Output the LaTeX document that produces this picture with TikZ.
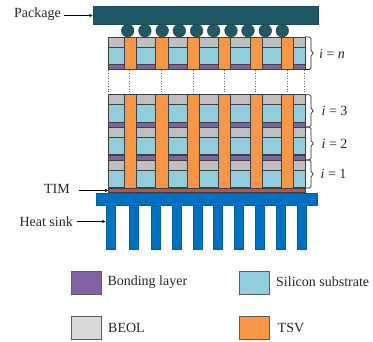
\documentclass[tikz,border=0pt]{standalone}
\usepackage{fontspec}
\setmainfont{Liberation Serif}
\usetikzlibrary{arrows.meta}
\definecolor{pkg}{HTML}{1F5866}
\definecolor{sil}{HTML}{92CDDC}
\definecolor{bond}{HTML}{8064A2}
\definecolor{beol}{HTML}{BFBFBF}
\definecolor{beolleg}{HTML}{D9D9D9}
\definecolor{tsvc}{HTML}{F79646}
\definecolor{timc}{HTML}{C0504D}
\definecolor{sink}{HTML}{0070C0}
\definecolor{edge}{HTML}{404040}
\tikzset{
  layer/.style={draw=edge,line width=0.7pt},
  sinkbox/.style={draw=sink!85!black,line width=0.4pt,fill=sink},
  label/.style={font=\fontsize{14}{16}\selectfont,inner sep=0pt,text=black!85},
  ilabel/.style={label,anchor=west},
  lead/.style={-{Latex[length=3.5pt,width=3.5pt]},line width=0.8pt,black},
  bracket/.style={draw=black!85,line width=0.7pt,rounded corners=1.6pt},
  legendbox/.style={draw=edge!85,line width=0.9pt,minimum width=30.4pt,minimum height=23pt,inner sep=0pt,outer sep=0pt,anchor=north west},
  dots/.style={draw=edge!80,line width=0.6pt,dash pattern=on 1pt off 1.6pt}
}
\newcommand{\chip}[1]{% top y of a tier: BEOL, silicon
  \path[layer,fill=beol] (108.5,#1) rectangle (305,#1+10);
  \path[layer,fill=sil] (108.5,#1+10) rectangle (305,#1+27.5);
}
\newcommand{\tsvs}[2]{%
  \foreach \a/\b in {124/136.5,155/168,187/199,218/230.5,250/262,281/293.5}
    \path[layer,fill=tsvc] (\a,#1) rectangle (\b,#2);
}
\newcommand{\tierbrace}[2]{%
  \draw[bracket] (305,#1) -- (311,#1) -- (311,{(#1+#2)/2-1.5}) -- (314.5,{(#1+#2)/2}) -- (311,{(#1+#2)/2+1.5}) -- (311,#2) -- (305,#2);
}
\begin{document}
\begin{tikzpicture}[x=1pt,y=-1pt]
\useasboundingbox (0,0) rectangle (373,342);
% package and solder balls
\node[draw=pkg!85!black,fill=pkg,minimum width=225.5pt,minimum height=18pt,inner sep=0pt,outer sep=0pt,anchor=north west] (package) at (93,6.5) {};
\foreach \x in {127.7,144.9,162.2,179.3,196.6,213.7,231,248,265.3,282.3}
  \path[draw=edge,line width=0.5pt,fill=pkg] (\x,30.7) circle (6.3pt);
% top tier
\chip{37}
\path[layer,fill=bond] (108.5,64.5) rectangle (305,69.5);
\tsvs{37}{69.5}
% dotted continuation
\foreach \x in {108.7,129.7,161.7,193,224.3,255.7,287,304.7}
  \draw[dots] (\x,70.5) -- (\x,94);
% lower tiers
\chip{94.7}
\path[layer,fill=bond] (108.5,122.2) rectangle (305,127);
\chip{127}
\path[layer,fill=bond] (108.5,155.3) rectangle (305,160);
\chip{160}
\tsvs{94.7}{188}
% TIM
\node[layer,fill=timc,minimum width=196.5pt,minimum height=4.6pt,inner sep=0pt,outer sep=0pt,anchor=north west] (tim) at (108.5,188.2) {};
% heat sink
\node[sinkbox,minimum width=9.2pt,minimum height=44pt,inner sep=0pt,outer sep=0pt,anchor=north west] (fin) at (105.8,205) {};
\foreach \a in {128.7,151,172,192.7,213.3,234,255,276,296.7}
  \path[sinkbox] (\a,205) rectangle (\a+9.2,249);
\node[sinkbox,minimum width=221.5pt,minimum height=12.4pt,inner sep=0pt,outer sep=0pt,anchor=north west] (sinkbase) at (96,193.2) {};
% tier labels
\tierbrace{37}{69.5}
\tierbrace{94.7}{127}
\tierbrace{127}{160}
\tierbrace{160}{188}
\node[ilabel] (in) at (319,53.5) {\textit{i} = \textit{n}};
\node[ilabel] (i3) at (321.5,111) {\textit{i} = 3};
\node[ilabel] (i2) at (321.5,144) {\textit{i} = 2};
\node[ilabel] (i1) at (320.5,174) {\textit{i} = 1};
% callouts
\node[label,anchor=east] (lpackage) at (61,14.5) {Package};
\draw[lead] (lpackage.east)+(2.5,1) -- (package.west |- 0,15.5);
\node[label,anchor=east] (ltim) at (70,189) {TIM};
\draw[lead] (79,190.5) -- (tim.west);
\node[label,anchor=east] (lsink) at (73,222) {Heat sink};
\draw[lead] (lsink.east)+(3.5,-0.5) -- (fin.west |- 0,221.5);
% legend
\node[legendbox,fill=bond] (k1) at (71.3,271) {};
\node[label,anchor=west] at (107.3,282) {Bonding layer};
\node[legendbox,fill=sil] (k2) at (239.3,271) {};
\node[label,anchor=west] at (276,282) {Silicon substrate};
\node[legendbox,fill=beolleg] (k3) at (71.3,316) {};
\node[label,anchor=west] at (108,327.5) {BEOL};
\node[legendbox,fill=tsvc] (k4) at (239.3,316) {};
\node[label,anchor=west] at (277.5,327.5) {TSV};
\end{tikzpicture}
\end{document}
